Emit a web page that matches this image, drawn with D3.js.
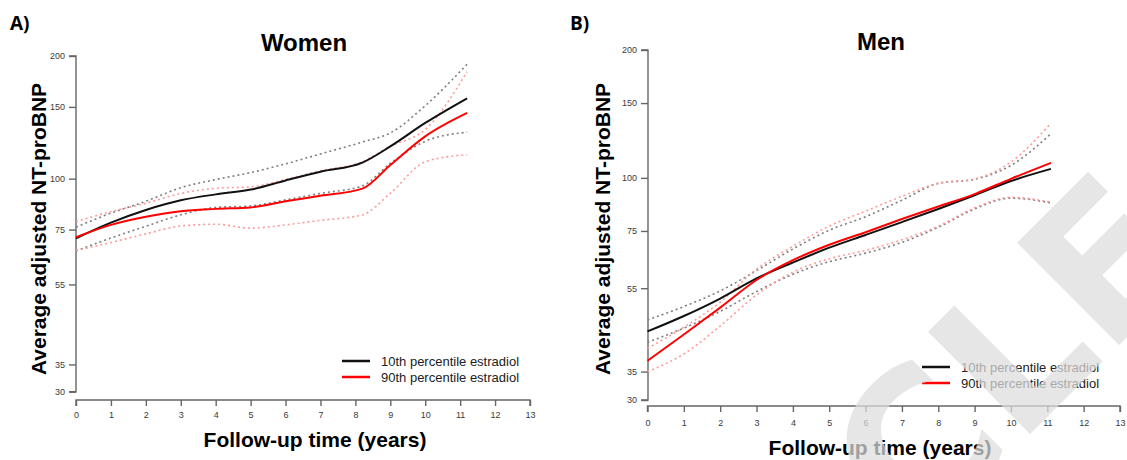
<!DOCTYPE html>
<html><head><meta charset="utf-8">
<script src="https://cdn.jsdelivr.net/npm/d3@7"></script>
<style>
body{margin:0;background:#fff}
svg{display:block}
text{font-family:"Liberation Sans",Arial,sans-serif}
</style>
</head><body>
<svg id="chart" width="1127" height="460"></svg>
<script>
// ---- data ----
const yTickValues = [30, 35, 55, 75, 100, 150, 200];
const xTickValues = [0,1,2,3,4,5,6,7,8,9,10,11,12,13];
const legendLabels = ["10th percentile estradiol", "90th percentile estradiol"];

const womenTime = [0, 1, 2, 3, 4, 5, 6, 7, 8.2, 9, 10, 11.2];
const women10th      = [71.4, 78, 83.8, 88.5, 91.5, 94, 99, 104, 109.5, 120, 137, 157.5];
const women90th      = [71.8, 77, 80.6, 83.2, 84.3, 85, 88, 90.8, 94.5, 108, 127, 145];
const women10thUpper = [76, 82.3, 88, 95, 99.5, 103.5, 108.7, 115, 123, 129.5, 151, 191];
const women10thLower = [66.5, 71.5, 76.4, 81.5, 85, 85.7, 88.7, 92, 96, 109, 123.5, 130];
const women90thUpper = [78.4, 83, 87, 92, 94.7, 95.5, 99.5, 104.5, 110, 120, 132, 183];
const women90thLower = [66.6, 69.7, 73.2, 76.5, 77.3, 75.6, 77, 79, 81.5, 92, 110, 114.5];

const menTime = [0, 1, 2, 3, 4, 5, 6, 7, 8, 9, 10, 11.1];
const men10th      = [43.5, 47.3, 52, 58, 63.2, 68.5, 73.4, 78.7, 84.5, 91, 98.3, 105];
const men90th      = [37.1, 42.8, 49.5, 57.5, 64, 69.6, 74.5, 80, 85.6, 91.6, 99.5, 108.5];
const men10thUpper = [46.3, 49.8, 54.2, 60.5, 68, 75.3, 81, 88.6, 97, 99.2, 107, 127];
const men10thLower = [41, 44.3, 48.5, 54, 59.3, 63.5, 66.5, 70.5, 76.5, 84.5, 89.6, 87.3];
const men90thUpper = [39.7, 44.5, 51, 61, 69, 77, 83.5, 90.5, 97.2, 99.5, 109, 134.5];
const men90thLower = [35, 38.5, 44.8, 53, 60, 64.5, 67.5, 71.5, 77, 85, 90, 87.6];

// ---- drawing ----
const svg = d3.select("#chart");

function drawPanel(cfg, time, s10, s90, s10u, s10l, s90u, s90l) {
  const g = svg.append("g");
  const x = d3.scaleLinear().domain([0, 13]).range([cfg.x0, cfg.x1]);
  const y = d3.scaleLog().domain([30, 200]).range([cfg.yBot, cfg.yTop]);

  const yAxis = d3.axisLeft(y).tickValues(yTickValues).tickFormat(d3.format("d")).tickSize(7).tickPadding(4);
  const ya = g.append("g").attr("transform", `translate(${cfg.yAxisX},0)`).call(yAxis);
  const xAxis = d3.axisBottom(x).tickValues(xTickValues).tickFormat(d3.format("d")).tickSize(6).tickPadding(cfg.xPad);
  const xa = g.append("g").attr("transform", `translate(0,${cfg.xAxisY})`).call(xAxis);
  [ya, xa].forEach(a => {
    a.select(".domain").attr("stroke", "#666").attr("stroke-width", 1.4)
      .attr("d", a === ya ? `M-7,${y(30)}H0V${y(200)}H-7` : `M${x(0)},6V0H${x(13)}V6`);
    a.selectAll(".tick line").attr("stroke", "#666").attr("stroke-width", 1.4);
    a.selectAll(".tick text").attr("fill", "#3a3a3a").style("font-size", "9px")
      .style("font-family", "'Liberation Sans',Arial,sans-serif");
  });

  const line = d3.line().x((d, i) => x(time[i])).y(d => y(d)).curve(d3.curveMonotoneX);
  const dotted = [
    {v: s10u, c: "#7f7f7f"}, {v: s10l, c: "#7f7f7f"},
    {v: s90u, c: "#ff9a9a"}, {v: s90l, c: "#ff9a9a"}
  ];
  dotted.forEach(s => g.append("path").attr("d", line(s.v)).attr("fill", "none")
    .attr("stroke", s.c).attr("stroke-width", 1.6).attr("stroke-dasharray", "2,3"));
  g.append("path").attr("d", line(s10)).attr("fill", "none").attr("stroke", "#111").attr("stroke-width", 2);
  g.append("path").attr("d", line(s90)).attr("fill", "none").attr("stroke", "#ff0000").attr("stroke-width", 2);

  g.append("text").attr("x", cfg.titleX).attr("y", cfg.titleY).attr("text-anchor", "middle")
    .style("font-size", "24px").style("font-weight", "bold").attr("fill", "#000").text(cfg.title);
  g.append("text").attr("x", cfg.tagX).attr("y", 30).style("font-size", "19px").style("font-weight", "bold")
    .style("font-family", "'Open Sans','Liberation Sans',sans-serif").attr("fill", "#000").text(cfg.tag);
  g.append("text").attr("transform", `translate(${cfg.yTitleX},${cfg.yTitleY}) rotate(-90)`)
    .attr("text-anchor", "middle").attr("dy", "0.36em").style("font-size", "21px").style("font-weight", "bold")
    .attr("fill", "#000").text("Average adjusted NT-proBNP");
  g.append("text").attr("x", cfg.xTitleX).attr("y", cfg.xTitleY).attr("text-anchor", "middle")
    .style("font-size", "21px").style("font-weight", "bold").attr("fill", "#000").text("Follow-up time (years)");

  const lg = g.append("g").attr("transform", `translate(${cfg.legX},${cfg.legY})`);
  [{c: "#111"}, {c: "#ff0000"}].forEach((d, i) => {
    lg.append("line").attr("x1", 0).attr("x2", 28).attr("y1", i * 16).attr("y2", i * 16)
      .attr("stroke", d.c).attr("stroke-width", 2.5);
    lg.append("text").attr("x", 39).attr("y", i * 16).attr("dy", "0.35em").style("font-size", "13px")
      .attr("fill", "#222").text(legendLabels[i]);
  });
}

drawPanel({x0: 76, x1: 530, yTop: 56, yBot: 391.7, yAxisX: 76, xAxisY: 400, xPad: 6,
  title: "Women", titleX: 304, titleY: 51, tag: "A)", tagX: 10,
  yTitleX: 38, yTitleY: 229, xTitleX: 315, xTitleY: 447, legX: 342, legY: 361},
  womenTime, women10th, women90th, women10thUpper, women10thLower, women90thUpper, women90thLower);

drawPanel({x0: 647.5, x1: 1120, yTop: 50, yBot: 400, yAxisX: 648, xAxisY: 406, xPad: 8,
  title: "Men", titleX: 881, titleY: 50, tag: "B)", tagX: 570,
  yTitleX: 602, yTitleY: 229, xTitleX: 880, xTitleY: 455, legX: 922, legY: 367},
  menTime, men10th, men90th, men10thUpper, men10thLower, men90thUpper, men90thLower);

// watermark
svg.append("text").attr("transform", "translate(1202,262) rotate(-45)").attr("text-anchor", "end")
  .style("font-family", "'DejaVu Sans',sans-serif").style("font-weight", "bold").style("font-size", "198px")
  .attr("fill", "#dddddd").attr("fill-opacity", 0.72).text("ARTICLE");
</script>
</body></html>
